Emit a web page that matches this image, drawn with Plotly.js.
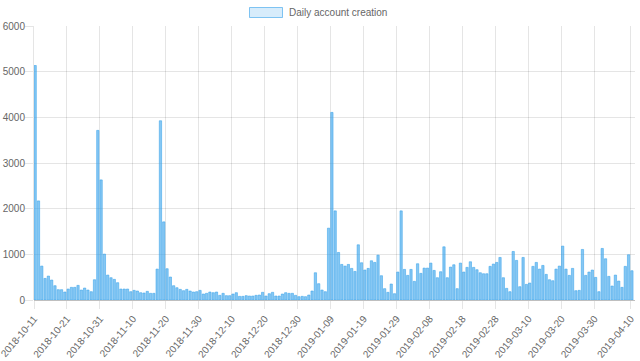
<!DOCTYPE html>
<html>
<head>
<meta charset="utf-8">
<script src="https://cdn.plot.ly/plotly-3.0.1.min.js"></script>
<style>
html, body { margin: 0; padding: 0; background: #ffffff; }
#chart { width: 640px; height: 361px; }
</style>
</head>
<body>
<div id="chart"></div>
<script>
// First day of the series; one bar per consecutive day
const startDate = '2018-10-11';
const seriesName = 'Daily account creation';

// Daily account creation counts
const dailyAccounts = [
  5135, 2170, 743, 473, 524, 437, 313, 226, 226, 175,
  240, 277, 277, 320, 218, 262, 218, 182, 444, 3714,
  2630, 1005, 546,
  488, 452, 379, 240, 240, 240, 182, 211, 197, 160,
  153, 189, 146, 146, 677, 3925, 1711, 685, 503, 313,
  269, 233, 204,
  233, 197, 175, 182, 211, 131, 146, 175, 160, 175,
  102, 146, 95, 95, 131, 160, 80, 80, 95, 87,
  87, 102, 109,
  168, 87, 138, 168, 87, 87, 131, 160, 146, 146,
  102, 73, 80, 73, 109, 197, 597, 357, 218, 182,
  1573, 4108, 1952, 1041,
  779, 743, 779, 692, 626, 1209, 816, 656, 692, 859,
  823, 983, 532, 248, 168, 350, 138, 612, 1952, 670,
  539, 670, 408,
  794, 583, 699, 699, 808, 648, 488, 619, 1165, 488,
  721, 772, 248, 808, 612, 714, 837, 714, 663, 597,
  575, 575, 736,
  787, 823, 932, 488, 255, 182, 1063, 867, 291, 932,
  342, 371, 736, 823, 677, 757, 561, 444, 422, 677,
  743, 1180, 677, 539,
  692, 204, 211, 1107, 539, 612, 656, 495, 182, 1129,
  903, 517, 306, 546, 415, 277, 736, 991, 641
];

// X tick labels shown on the axis
const xTickLabels = [
  '2018-10-11', '2018-10-21', '2018-10-31', '2018-11-10', '2018-11-20',
  '2018-11-30', '2018-12-10', '2018-12-20', '2018-12-30', '2019-01-09',
  '2019-01-19', '2019-01-29', '2019-02-08', '2019-02-18', '2019-02-28',
  '2019-03-10', '2019-03-20', '2019-03-30', '2019-04-10'
];

// Y tick values
const yTicks = [0, 1000, 2000, 3000, 4000, 5000, 6000];

// Build consecutive day categories
function addDays(iso, n) {
  const d = new Date(iso + 'T00:00:00Z');
  d.setUTCDate(d.getUTCDate() + n);
  return d.toISOString().slice(0, 10);
}
const days = dailyAccounts.map((_, i) => addDays(startDate, i));

const DAY = 86400000;
const L = 34, R = 635, T = 26, B = 300;
const pw = R - L, ph = B - T;
const px2x = p => (p - L) / pw;
const px2y = p => (B - p) / ph;

const trace = {
  type: 'bar',
  x: days,
  y: dailyAccounts,
  name: seriesName,
  offset: 0,
  width: 0.7 * DAY,
  marker: {
    color: 'rgba(54,162,235,0.6)',
    line: { color: 'rgba(54,162,235,0.9)', width: 0.6 }
  },
  hoverinfo: 'x+y',
  showlegend: false
};

const gridColor = 'rgba(0,0,0,0.1)';
const textColor = '#666666';
const fontFamily = '"Liberation Sans", Arial, Helvetica, sans-serif';

const layout = {
  width: 640,
  height: 361,
  margin: { l: L, r: 640 - R, t: T, b: 361 - B, pad: 0 },
  paper_bgcolor: '#ffffff',
  plot_bgcolor: '#ffffff',
  font: { family: fontFamily, size: 10, color: textColor },
  showlegend: false,
  bargap: 0.3,
  xaxis: {
    type: 'date',
    range: ['2018-10-10 23:50', '2019-04-11 07:00'],
    tickmode: 'array',
    tickvals: xTickLabels,
    ticktext: xTickLabels,
    tickangle: -50,
    ticklabeloverflow: 'allow',
    showgrid: true,
    gridcolor: gridColor,
    gridwidth: 1,
    ticks: 'outside',
    ticklen: 8,
    tickcolor: gridColor,
    tickfont: { family: fontFamily, size: 10, color: textColor },
    showline: false,
    zeroline: false,
    fixedrange: true
  },
  yaxis: {
    range: [0, 6000],
    tickmode: 'array',
    tickvals: yTicks,
    ticktext: yTicks.map(String),
    showgrid: true,
    gridcolor: gridColor,
    gridwidth: 1,
    ticks: 'outside',
    ticklen: 8,
    ticklabelstandoff: -2,
    tickcolor: gridColor,
    tickfont: { family: fontFamily, size: 10, color: textColor },
    showline: true,
    linecolor: gridColor,
    linewidth: 1,
    zeroline: true,
    zerolinecolor: 'rgba(0,0,0,0.25)',
    zerolinewidth: 1,
    fixedrange: true
  },
  shapes: [
    {
      type: 'rect',
      xref: 'paper', yref: 'paper',
      x0: px2x(249.5), x1: px2x(282.5),
      y0: px2y(17.5), y1: px2y(7.5),
      fillcolor: 'rgba(54,162,235,0.2)',
      line: { color: 'rgba(54,162,235,0.6)', width: 1 }
    }
  ],
  annotations: [
    {
      xref: 'paper', yref: 'paper',
      x: px2x(287), y: px2y(12.5),
      xanchor: 'left', yanchor: 'middle',
      text: seriesName,
      showarrow: false,
      font: { family: fontFamily, size: 10, color: textColor }
    }
  ]
};

Plotly.newPlot('chart', [trace], layout, { displayModeBar: false, staticPlot: true });
</script>
</body>
</html>
